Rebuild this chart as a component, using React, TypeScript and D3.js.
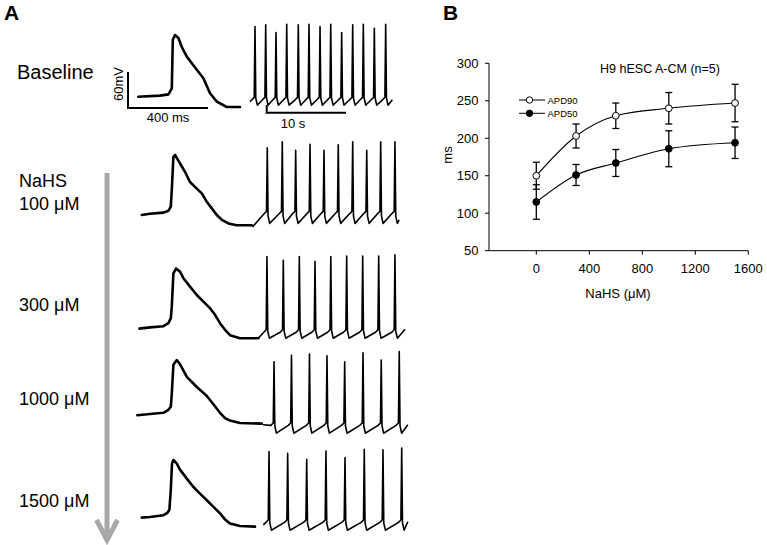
import React from 'react';
import * as d3 from 'd3';

const FONT = '"Liberation Sans", Arial, Helvetica, sans-serif';

// ---------- Panel B data ----------
const NAHS_UM = [0, 300, 600, 1000, 1500];
const APD90_MEAN = [150, 203, 230, 240, 247];
const APD90_ERR = [18, 16, 17, 21, 25];
const APD50_MEAN = [115, 151, 167, 186, 194];
const APD50_ERR = [23, 14, 18, 24, 21];
const Y_TICKS = [50, 100, 150, 200, 250, 300];
const X_TICKS = [0, 400, 800, 1200, 1600];

// ---------- Panel A data ----------
const ROW_LABELS: string[][] = [['Baseline'], ['NaHS', '100 μM'], ['300 μM'], ['1000 μM'], ['1500 μM']];

// single action potentials: [time ms, membrane mV]
const AP_BASE: [number, number][] = [[6, -63], [115, -61], [157, -59], [174, -49], [179, 32], [190, 40], [207, 35], [224, 20], [249, 4], [299, -18], [332, -32], [365, -57], [399, -71], [449, -80], [515, -80]];
const AP_100: [number, number][] = [[24, -60], [65, -58], [132, -56], [157, -53], [169, -46], [174, -18], [182, 37], [190, 40], [215, 26], [240, 12], [265, -5], [299, -16], [324, -24], [349, -38], [374, -49], [399, -60], [424, -68], [457, -74], [499, -77], [574, -77]];
const AP_300: [number, number][] = [[12, -61], [65, -59], [132, -57], [157, -52], [169, -44], [174, -24], [182, 31], [195, 39], [215, 34], [232, 23], [265, 9], [299, -5], [332, -16], [365, -27], [390, -38], [415, -52], [440, -63], [465, -72], [515, -77], [607, -77]];
const AP_1000: [number, number][] = [[2, -52], [65, -50], [132, -48], [157, -43], [169, -38], [174, -16], [182, 32], [199, 40], [215, 33], [249, 12], [299, -5], [349, -20], [380, -33], [415, -48], [440, -57], [465, -61], [515, -65], [624, -66]];
const AP_1500: [number, number][] = [[24, -56], [65, -55], [132, -52], [152, -48], [162, -43], [169, -10], [175, 34], [182, 40], [199, 34], [215, 24], [249, 9], [282, -5], [315, -16], [349, -27], [382, -38], [415, -49], [440, -59], [465, -66], [515, -70], [590, -71]];

// spontaneous firing trains: spike times (s) and peak potentials (mV)
const TRAIN_T_BASE = [0.63, 1.98, 3.28, 4.63, 6.09, 7.44, 8.83, 10.18, 11.56, 12.95, 14.29, 15.68, 17.11];
const TRAIN_V_BASE = [54, 57, 44, 58, 57, 58, 54, 58, 44, 57, 58, 51, 58];
const TRAIN_T_100 = [2.18, 4.07, 5.76, 7.57, 9.33, 11.13, 12.95, 14.72, 16.48, 18.28];
const TRAIN_V_100 = [52, 62, 48, 58, 48, 57, 62, 48, 62, 62];
const TRAIN_T_300 = [2.14, 4.2, 6.22, 8.2, 10.19, 12.19, 14.21, 16.23, 18.28];
const TRAIN_V_300 = [59, 53, 59, 51, 59, 60, 60, 60, 62];
const TRAIN_T_1000 = [3.03, 5.23, 7.5, 9.71, 11.94, 14.25, 16.55, 18.82];
const TRAIN_V_1000 = [37, 48, 50, 47, 37, 52, 40, 54];
const TRAIN_T_1500 = [2.4, 4.75, 7.15, 9.58, 11.98, 14.41, 16.77, 19.13];
const TRAIN_V_1500 = [54, 51, 41, 55, 44, 58, 57, 60];
const TRAIN_TROUGH = [-77, -74, -77, -82, -77];
const TRAIN_FOOT = [-64, -54, -63, -65, -60];
const TRAIN_START: [number, number][] = [[0, -71], [0.3, -80], [1.05, -77], [1.64, -68], [1.68, -68]];
const TRAIN_END: [number, number][] = [[17.95, -68], [18.8, -68], [19.55, -62], [19.9, -68], [19.9, -63]];

const APS = [AP_BASE, AP_100, AP_300, AP_1000, AP_1500];
const TRAIN_T = [TRAIN_T_BASE, TRAIN_T_100, TRAIN_T_300, TRAIN_T_1000, TRAIN_T_1500];
const TRAIN_V = [TRAIN_V_BASE, TRAIN_V_100, TRAIN_V_300, TRAIN_V_1000, TRAIN_V_1500];

function trainPoints(i: number): [number, number][] {
  const pts: [number, number][] = [TRAIN_START[i]];
  const trough = TRAIN_TROUGH[i];
  const foot = TRAIN_FOOT[i];
  TRAIN_T[i].forEach((t, k) => {
    pts.push([t - 0.4, foot - 4]);
    pts.push([t - 0.1, foot]);
    pts.push([t, TRAIN_V[i][k]]);
    pts.push([t + 0.1, trough + 12]);
    pts.push([t + 0.3, trough]);
  });
  pts.push(TRAIN_END[i]);
  return pts;
}

export default function App() {
  // layout
  const rowZero = [59, 179, 292, 384, 484]; // pixel y of 0 mV in each row
  const labelBase = [[79], [186.5, 209.5], [310.5], [404.5], [507]];
  const apX = d3.scaleLinear().domain([0, 400]).range([137, 217]);
  const trX = d3.scaleLinear().domain([0, 10]).range([250, 329.3]);
  const mvY = (z: number) => d3.scaleLinear().domain([0, 60]).range([z, z - 36]);

  // panel B scales
  const xB = d3.scaleLinear().domain([0, 1600]).range([536.3, 748.3]);
  const yB = d3.scaleLinear().domain([50, 300]).range([250.7, 63.3]);
  const axX0 = 489;
  const curve = d3.line<number>().x((_, i) => xB(NAHS_UM[i])).y(d => yB(d)).curve(d3.curveMonotoneX);

  const grayArrow = '#a8a8a8';

  return (
    <svg width={767} height={545} style={{ position: 'absolute', left: 0, top: 0, background: '#fff' }} fontFamily={FONT}>
      <rect x={0} y={0} width={767} height={545} fill="#fff" />
      {/* Panel letters */}
      <text x={4} y={20} fontSize={21} fontWeight="bold">A</text>
      <text x={443} y={20} fontSize={21} fontWeight="bold">B</text>

      {/* Row labels */}
      {ROW_LABELS.map((lines, i) =>
        lines.map((s, j) => (
          <text key={`l${i}-${j}`} x={i === 0 ? 17 : 19} y={labelBase[i][j]} fontSize={i === 0 ? 20 : 18}>{s}</text>
        ))
      )}

      {/* Gray arrow */}
      <line x1={107} y1={173} x2={107} y2={538} stroke={grayArrow} strokeWidth={5} />
      <polyline points="96.5,520 107,540 117.5,520" fill="none" stroke={grayArrow} strokeWidth={5} strokeLinejoin="miter" />

      {/* Scale bars */}
      <polyline points={`128,${mvY(108)(0) - 0 + 0},128,108,208,108`} fill="none" stroke="#000" strokeWidth={2} style={{ display: 'none' }} />
      <polyline
        points={`128,${108 - (mvY(0)(0) - mvY(0)(60))} 128,108 ${128 + apX(400) - apX(0)},108`}
        fill="none" stroke="#000" strokeWidth={2} />
      <text transform="translate(122.5,84) rotate(-90)" textAnchor="middle" fontSize={13}>60mV</text>
      <text x={168} y={121.5} textAnchor="middle" fontSize={13}>400 ms</text>
      <polyline points={`266.7,105 266.7,112.7 ${266.7 + trX(10) - trX(0)},112.7`} fill="none" stroke="#000" strokeWidth={2} />
      <text x={293} y={127.5} textAnchor="middle" fontSize={13}>10 s</text>

      {/* Action potentials */}
      {APS.map((ap, i) => {
        const ys = mvY(rowZero[i]);
        const line = d3.line<[number, number]>().x(d => apX(d[0])).y(d => ys(d[1]));
        return <path key={`ap${i}`} d={line(ap) || ''} fill="none" stroke="#000" strokeWidth={2.6} strokeLinejoin="round" strokeLinecap="round" />;
      })}

      {/* Spike trains */}
      {TRAIN_T.map((_, i) => {
        const ys = mvY(rowZero[i]);
        const line = d3.line<[number, number]>().x(d => trX(d[0])).y(d => ys(d[1]));
        return <path key={`tr${i}`} d={line(trainPoints(i)) || ''} fill="none" stroke="#000" strokeWidth={1.6} strokeLinejoin="round" />;
      })}

      {/* Panel B axes */}
      <line x1={axX0} y1={yB(300)} x2={axX0} y2={yB(50)} stroke="#000" strokeWidth={1} />
      <line x1={axX0} y1={yB(50)} x2={xB(1600)} y2={yB(50)} stroke="#000" strokeWidth={1} />
      {Y_TICKS.map(v => (
        <g key={`yt${v}`}>
          <line x1={axX0 - 4} x2={axX0} y1={yB(v)} y2={yB(v)} stroke="#000" strokeWidth={1} />
          <text x={478.5} y={yB(v) + 4.5} textAnchor="end" fontSize={13}>{v}</text>
        </g>
      ))}
      {X_TICKS.map(v => (
        <g key={`xt${v}`}>
          <line x1={xB(v)} x2={xB(v)} y1={yB(50)} y2={yB(50) + 4} stroke="#000" strokeWidth={1} />
          <text x={xB(v)} y={272.5} textAnchor="middle" fontSize={13}>{v}</text>
        </g>
      ))}
      <text x={618} y={298} textAnchor="middle" fontSize={13}>NaHS (μM)</text>
      <text transform="translate(451.5,155) rotate(-90)" textAnchor="middle" fontSize={13}>ms</text>
      <text x={660} y={72.5} textAnchor="middle" fontSize={12.5}>H9 hESC A-CM (n=5)</text>

      {/* Curves */}
      <path d={curve(APD90_MEAN) || ''} fill="none" stroke="#000" strokeWidth={1.1} />
      <path d={curve(APD50_MEAN) || ''} fill="none" stroke="#000" strokeWidth={1.1} />

      {/* Error bars */}
      {[{ m: APD90_MEAN, e: APD90_ERR }, { m: APD50_MEAN, e: APD50_ERR }].map((s, si) =>
        s.m.map((v, i) => {
          const x = xB(NAHS_UM[i]);
          const t = yB(v + s.e[i]);
          const b = yB(v - s.e[i]);
          return (
            <g key={`eb${si}-${i}`} stroke="#000" strokeWidth={1.3}>
              <line x1={x} x2={x} y1={t} y2={b} />
              <line x1={x - 3.5} x2={x + 3.5} y1={t} y2={t} />
              <line x1={x - 3.5} x2={x + 3.5} y1={b} y2={b} />
            </g>
          );
        })
      )}

      {/* Markers */}
      {APD50_MEAN.map((v, i) => (
        <circle key={`m50${i}`} cx={xB(NAHS_UM[i])} cy={yB(v)} r={3.4} fill="#000" stroke="#000" strokeWidth={1} />
      ))}
      {APD90_MEAN.map((v, i) => (
        <circle key={`m90${i}`} cx={xB(NAHS_UM[i])} cy={yB(v)} r={3.4} fill="#fff" stroke="#000" strokeWidth={1} />
      ))}

      {/* Legend */}
      <line x1={519} x2={545} y1={100} y2={100} stroke="#000" strokeWidth={1} />
      <circle cx={529.5} cy={100} r={3.2} fill="#fff" stroke="#000" strokeWidth={1} />
      <text x={547.5} y={103.5} fontSize={9.5}>APD90</text>
      <line x1={519} x2={545} y1={113.3} y2={113.3} stroke="#000" strokeWidth={1} />
      <circle cx={529.5} cy={113.3} r={3.2} fill="#000" stroke="#000" strokeWidth={1} />
      <text x={547.5} y={116.8} fontSize={9.5}>APD50</text>
    </svg>
  );
}
